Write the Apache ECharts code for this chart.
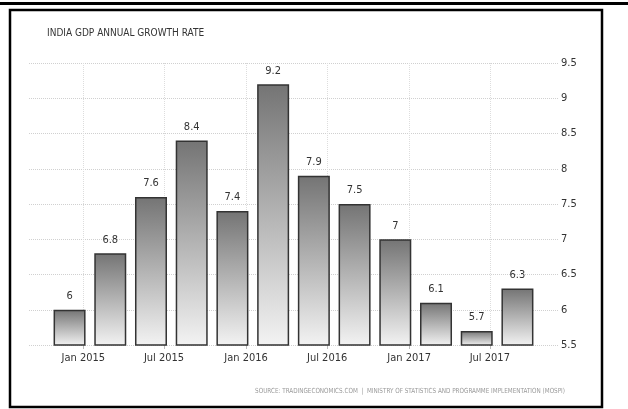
<!DOCTYPE html>
<html>
<head>
<meta charset="utf-8">
<script src="https://cdn.jsdelivr.net/npm/echarts@6/dist/echarts.min.js"></script>
<style>
  html, body { margin: 0; padding: 0; background: #fff; }
  #main { width: 628px; height: 409px; }
</style>
</head>
<body>
<div id="main"></div>
<script>
// quarterly readings (Q4 2014 .. Q3 2017)
var quarters = ['2014 Q4', '2015 Q1', '2015 Q2', '2015 Q3', '2015 Q4', '2016 Q1',
                '2016 Q2', '2016 Q3', '2016 Q4', '2017 Q1', '2017 Q2', '2017 Q3'];
var growth = [6, 6.8, 7.6, 8.4, 7.4, 9.2, 7.9, 7.5, 7, 6.1, 5.7, 6.3];
var monthNames = ['Jan', 'Feb', 'Mar', 'Apr', 'May', 'Jun', 'Jul', 'Aug', 'Sep', 'Oct', 'Nov', 'Dec'];

var FONT = 'DejaVu Sans Condensed';
var chart = echarts.init(document.getElementById('main'));

var barFill = new echarts.graphic.LinearGradient(0, 0, 0, 1, [
  { offset: 0, color: '#747474' },
  { offset: 1, color: '#f3f3f3' }
]);

var option = {
  animation: false,
  backgroundColor: '#fff',
  title: {
    text: 'INDIA GDP ANNUAL GROWTH RATE',
    left: 42,
    top: 23,
    textStyle: { fontFamily: FONT, fontSize: 10, fontWeight: 'normal', color: '#333' }
  },
  grid: [
    // date scale, gridlines, value labels
    { left: 29, right: 70, top: 63, bottom: 64 },
    // bars: one slot per quarter, centred on the last month of the quarter
    { left: 49.2, right: 90.2, top: 63, bottom: 64 }
  ],
  xAxis: [{
    gridIndex: 0,
    type: 'time',
    min: '2014-09-01',
    max: '2017-12-01',
    minInterval: 182 * 86400000,
    maxInterval: 184 * 86400000,
    axisLine: { show: false },
    axisTick: { show: true, length: 4, lineStyle: { color: '#bbb' } },
    splitLine: {
      show: true, showMinLine: false, showMaxLine: false,
      lineStyle: { color: '#ddd', type: 'dotted' }
    },
    axisLabel: {
      fontFamily: FONT, fontSize: 11, color: '#333', margin: 8,
      showMinLabel: false, showMaxLabel: false,
      formatter: function (v) {
        var d = new Date(v);
        return monthNames[d.getMonth()] + ' ' + d.getFullYear();
      }
    }
  }, {
    gridIndex: 1,
    type: 'category',
    data: quarters,
    show: false
  }],
  yAxis: [{
    gridIndex: 0,
    type: 'value',
    position: 'right',
    min: 5.5,
    max: 9.5,
    interval: 0.5,
    axisLine: { show: false },
    axisTick: { show: false },
    splitLine: { lineStyle: { color: '#d0d0d0', type: 'dotted' } },
    axisLabel: { fontFamily: FONT, fontSize: 11, color: '#333', margin: 3 }
  }, {
    gridIndex: 1,
    type: 'value',
    min: 5.5,
    max: 9.5,
    show: false
  }],
  series: [{
    type: 'bar',
    xAxisIndex: 1,
    yAxisIndex: 1,
    barWidth: 32,
    data: growth,
    itemStyle: { color: barFill, borderColor: '#333', borderWidth: 1.5 },
    label: {
      show: true, position: 'top', distance: 8,
      fontFamily: FONT, fontSize: 11, color: '#333'
    }
  }],
  graphic: [
    { type: 'rect', left: 0, top: 2, shape: { width: 628, height: 3 }, style: { fill: '#000' } },
    { type: 'rect', shape: { x: 10, y: 10, width: 592, height: 397 },
      style: { fill: 'none', stroke: '#000', lineWidth: 2.5 } },
    { type: 'text', right: 63, top: 388, scaleX: 0.9,
      style: { text: 'SOURCE: TRADINGECONOMICS.COM  |  MINISTRY OF STATISTICS AND PROGRAMME IMPLEMENTATION (MOSPI)',
               fill: '#999', font: '7px "DejaVu Sans Condensed"' } }
  ]
};
chart.setOption(option);
</script>
</body>
</html>
